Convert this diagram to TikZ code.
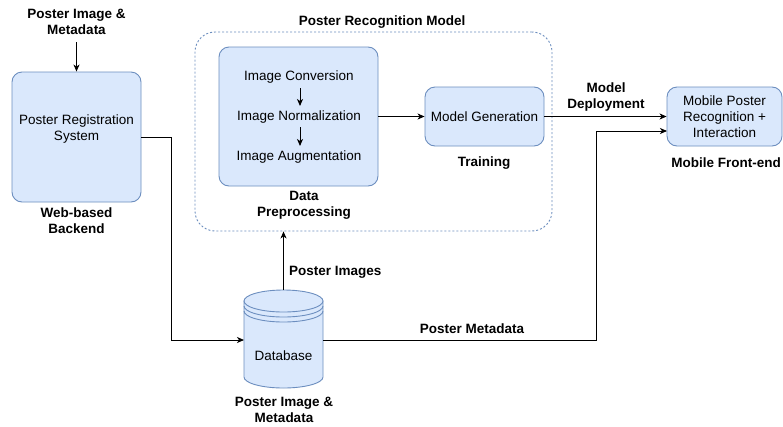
\documentclass[tikz,border=0pt]{standalone}
\usepackage{fontspec}
\setmainfont{Liberation Sans}
\usetikzlibrary{arrows.meta}
\definecolor{boxfill}{HTML}{DAE8FC}
\definecolor{boxline}{HTML}{6C8EBF}
\begin{document}
\begin{tikzpicture}[x=1pt,y=-1pt,
  every node/.style={font=\fontsize{13.5}{16}\selectfont, align=center, inner sep=0pt},
  bx/.style={draw=boxline, fill=boxfill, rounded corners=10pt, line width=0.9pt},
  lbl/.style={font=\fontsize{13.5}{16}\selectfont\bfseries},
  arr/.style={line width=0.9pt, -{Stealth[length=7pt,width=6pt,inset=2pt]}},
  ln/.style={line width=0.9pt},
  cont/.style={draw=boxline, dash pattern=on 2pt off 2pt, rounded corners=20pt, line width=0.9pt}]
\useasboundingbox (0,0) rectangle (783,426);
\fill[white] (0,0) rectangle (783,426);

% container
\node[cont, minimum width=357pt, minimum height=199pt] (cont) at (373.5,131.5) {};
\node[lbl] (contlbl) at (382,22) {Poster Recognition Model};

% registration
\node[lbl] (toplbl) at (76.5,22) {Poster Image \&\\Metadata};
\coordinate (topstart) at (76.5,42);
\node[bx, minimum width=129pt, minimum height=130pt] (reg) at (76.5,137) {};
\node (regtext) at (76.5,129) {Poster Registration\\System};
\node[lbl] (reglbl) at (76.5,221) {Web-based\\Backend};
\draw[arr] (topstart) -- (reg.north);

% data preprocessing
\node[bx, minimum width=159pt, minimum height=139pt] (data) at (298.5,116.5) {};
\node (conv) at (299,77) {Image Conversion};
\node (norm) at (299,117) {Image Normalization};
\node (aug) at (299,157) {Image Augmentation};
\draw[arr] (300,88) coordinate (c1) -- (300,106) coordinate (c2);
\draw[arr] (300,127) coordinate (c3) -- (300,146) coordinate (c4);
\node[lbl] (datalbl) at (304,205) {Data\\Preprocessing};

% model generation
\node[bx, minimum width=119pt, minimum height=59pt] (gen) at (484.5,116.5) {Model Generation};
\node[lbl] (genlbl) at (484,163) {Training};
\draw[arr] (data.east) -- (gen.west);

% mobile
\node[bx, minimum width=115pt, minimum height=59pt] (mob) at (724.5,116.5) {Mobile Poster\\Recognition +\\Interaction};
\node[lbl] (moblbl) at (726,163) {Mobile Front-end};
\draw[arr] (gen.east) -- (mob.west);
\node[lbl] (deplbl) at (606,97) {Model\\Deployment};

% database
\begin{scope}[draw=boxline, fill=boxfill, line width=0.9pt]
\filldraw (244,301) -- (244,377) arc[start angle=180,end angle=360,x radius=39.5pt,y radius=11pt] -- (323,301) -- cycle;
\filldraw (283.5,301) ellipse [x radius=39.5pt, y radius=11pt];
\draw (244,306) arc[start angle=180,end angle=360,x radius=39.5pt,y radius=11pt];
\draw (244,311) arc[start angle=180,end angle=360,x radius=39.5pt,y radius=11pt];
\end{scope}
\node (db) at (283.5,356) {Database};
\coordinate (dbtop) at (283.5,290);
\coordinate (dbl) at (244,340);
\coordinate (dbr) at (323,340);
\node[lbl] (dblbl) at (284,410) {Poster Image \&\\Metadata};

% connectors
\draw[arr] (dbtop) -- (dbtop |- cont.south);
\node[lbl, anchor=west] (imglbl) at (289,272) {Poster Images};
\draw[arr] (reg.east) -| (171,340) -- (dbl);
\coordinate (mobin) at (667,131);
\draw[arr] (dbr) -- (596,340) -- (596,131) -- (mobin);
\node[lbl] (metalbl) at (472,329) {Poster Metadata};
\end{tikzpicture}
\end{document}
